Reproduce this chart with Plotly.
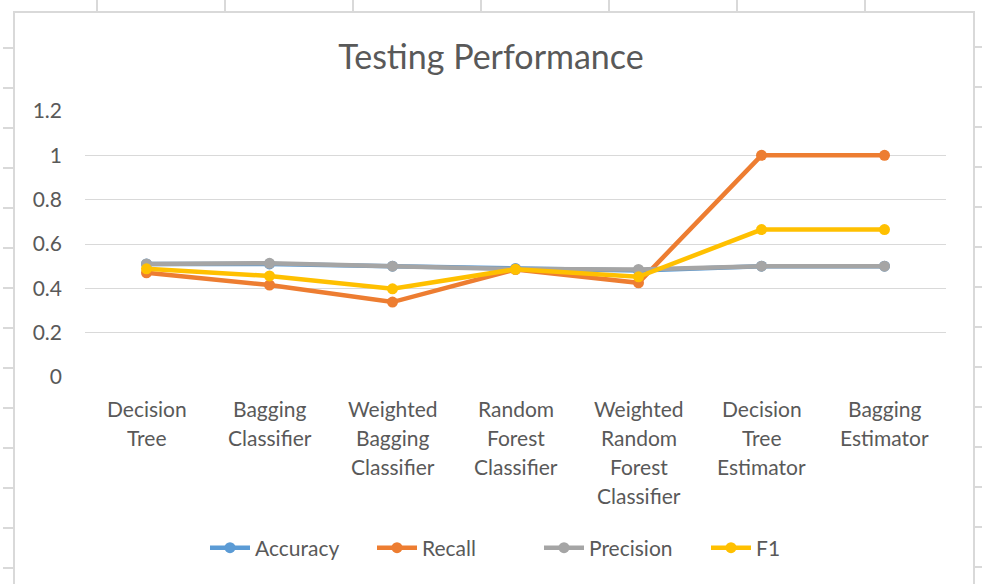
import plotly.graph_objects as go

categories = ["Decision\nTree", "Bagging\nClassifier", "Weighted\nBagging\nClassifier",
              "Random\nForest\nClassifier", "Weighted\nRandom\nForest\nClassifier",
              "Decision\nTree\nEstimator", "Bagging\nEstimator"]
accuracy = [0.51, 0.51, 0.50, 0.49, 0.48, 0.50, 0.50]
recall = [0.47, 0.415, 0.338, 0.485, 0.425, 1.0, 1.0]
precision = [0.51, 0.513, 0.50, 0.487, 0.485, 0.50, 0.50]
f1 = [0.488, 0.456, 0.398, 0.486, 0.452, 0.665, 0.665]
y_ticks = [0, 0.2, 0.4, 0.6, 0.8, 1, 1.2]
y_tick_text = ["0", "0.2", "0.4", "0.6", "0.8", "1", "1.2"]

series = [("Accuracy", accuracy, "#5B9BD5"), ("Recall", recall, "#ED7D31"),
          ("Precision", precision, "#A5A5A5"), ("F1", f1, "#FFC000")]

FONT = "Lato, Carlito, Calibri, sans-serif"
TXT = "#595959"

fig = go.Figure()
for name, vals, col in series:
    fig.add_trace(go.Scatter(x=list(range(len(categories))), y=vals, name=name, mode="lines+markers",
                             line=dict(color=col, width=4.5), marker=dict(color=col, size=11),
                             cliponaxis=False))

# Category labels (multi-line) as annotations
annotations = []
for i, cat in enumerate(categories):
    for j, line in enumerate(cat.split("\n")):
        annotations.append(dict(x=i, y=0, xref="x", yref="paper", text=line, showarrow=False,
                                yanchor="middle", xanchor="center", yshift=-31 - 29 * j,
                                font=dict(family=FONT, size=21, color=TXT)))

L, R, T, B = 85, 36, 111, 207
W, H = 982, 584
pw, ph = W - L - R, H - T - B

def px_x(p):
    return (p - L) / pw

def px_y(p):
    return (H - B - p) / ph

shapes = []
border = dict(color="#D9D9D9", width=2)
# chart border (Excel chart frame)
shapes.append(dict(type="rect", xref="paper", yref="paper", x0=px_x(14), x1=px_x(974),
                   y0=px_y(600), y1=px_y(12), line=border, layer="below"))
# spreadsheet grid stubs outside the frame
for xs in [97, 225, 353, 481, 609, 737, 865]:
    shapes.append(dict(type="line", xref="paper", yref="paper", x0=px_x(xs), x1=px_x(xs),
                       y0=px_y(12), y1=px_y(0), line=dict(color="#D9D9D9", width=2)))
for ys in range(48, 584, 40):
    shapes.append(dict(type="line", xref="paper", yref="paper", x0=px_x(3), x1=px_x(14),
                       y0=px_y(ys), y1=px_y(ys), line=dict(color="#D9D9D9", width=2)))
    shapes.append(dict(type="line", xref="paper", yref="paper", x0=px_x(974), x1=px_x(982),
                       y0=px_y(ys - 1), y1=px_y(ys - 1), line=dict(color="#D9D9D9", width=2)))

fig.update_layout(
    width=W, height=H,
    margin=dict(l=L, r=R, t=T, b=B),
    paper_bgcolor="white", plot_bgcolor="white",
    title=dict(text="Testing Performance", x=0.5, xanchor="center", y=1 - 57 / H, yanchor="middle",
               font=dict(family=FONT, size=34, color=TXT)),
    xaxis=dict(range=[-0.5, len(categories) - 0.5], showticklabels=False, showgrid=False,
               zeroline=False, showline=False, ticks=""),
    yaxis=dict(range=[0, 1.2], tickvals=y_ticks, ticktext=y_tick_text, showgrid=True,
               gridcolor="#D9D9D9", gridwidth=1, zeroline=False, showline=False,
               ticklabelstandoff=22, tickfont=dict(family=FONT, size=21, color=TXT)),
    showlegend=True,
    legend=dict(orientation="h", x=px_x(205), xanchor="left", y=px_y(548), yanchor="middle",
                font=dict(family=FONT, size=21, color=TXT), itemwidth=40,
                entrywidth=112, entrywidthmode="pixels", traceorder="normal"),
    annotations=annotations,
    shapes=shapes,
)

fig.write_html("out.html", config={"displayModeBar": False},
               post_script="document.body.style.margin='0';document.body.style.overflow='hidden';")
